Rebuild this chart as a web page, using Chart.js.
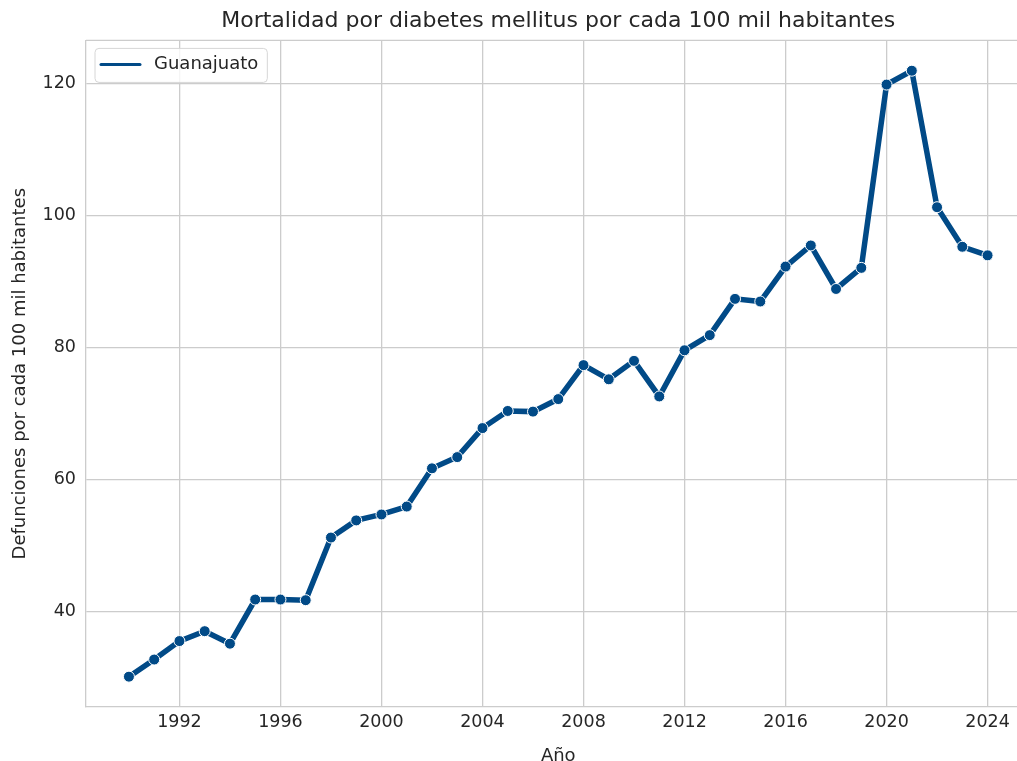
<!DOCTYPE html>
<html>
<head>
<meta charset="utf-8">
<script src="https://cdn.jsdelivr.net/npm/chart.js@4"></script>
<style>
  html, body { margin: 0; padding: 0; background: #ffffff; overflow: hidden; }
  #wrap { position: relative; width: 1037px; height: 761px; }
</style>
</head>
<body>
<div id="wrap"><canvas id="lineChart"></canvas></div>
<script>
// datos
var years = [1990, 1991, 1992, 1993, 1994, 1995, 1996, 1997, 1998, 1999,
  2000, 2001, 2002, 2003, 2004, 2005, 2006, 2007, 2008, 2009,
  2010, 2011, 2012, 2013, 2014, 2015, 2016, 2017, 2018, 2019,
  2020, 2021, 2022, 2023, 2024];
var guanajuato = [30.1, 32.7, 35.5, 37.0, 35.1, 41.8, 41.8, 41.7, 51.2, 53.8,
  54.7, 55.9, 61.7, 63.4, 67.8, 70.4, 70.3, 72.2, 77.35, 75.2,
  78.0, 72.6, 79.6, 81.9, 87.4, 87.0, 92.3, 95.5, 88.9, 92.1,
  119.9, 122.0, 101.3, 95.3, 94.0];
var xTicks = [1992, 1996, 2000, 2004, 2008, 2012, 2016, 2020, 2024];
var yTicks = [40, 60, 80, 100, 120];

var lineColor = "#014a87";
var gridColor = "#cccccc";
var textColor = "#262626";
var fontFamily = '"DejaVu Sans", sans-serif';

//legenda dentro del area
var legendBox = {
  id: "legendBox",
  afterDraw: function (chart) {
    var ctx = chart.ctx;
    var a = chart.chartArea;
    var ds = chart.data.datasets[0];
    ctx.save();
    ctx.font = "18px " + fontFamily;
    var tw = ctx.measureText(ds.label).width;
    var x = a.left + 9, y = a.top + 8, w = 68 + tw, h = 34;
    ctx.beginPath();
    ctx.roundRect(x, y, w, h, 4);
    ctx.fillStyle = "rgba(255,255,255,0.8)";
    ctx.fill();
    ctx.lineWidth = 1;
    ctx.strokeStyle = "#d6d6d6";
    ctx.stroke();
    ctx.beginPath();
    ctx.moveTo(x + 6, y + 16);
    ctx.lineTo(x + 45, y + 16);
    ctx.lineWidth = 3;
    ctx.lineCap = "round";
    ctx.strokeStyle = lineColor;
    ctx.stroke();
    ctx.fillStyle = textColor;
    ctx.textBaseline = "middle";
    ctx.fillText(ds.label, x + 59, y + 16);
    ctx.restore();
  },
};

//borde superior
var topSpine = {
  id: "topSpine",
  beforeDatasetsDraw: function (chart) {
    var ctx = chart.ctx;
    var a = chart.chartArea;
    ctx.save();
    ctx.beginPath();
    ctx.moveTo(a.left, a.top);
    ctx.lineTo(a.right, a.top);
    ctx.lineWidth = 1.3;
    ctx.strokeStyle = gridColor;
    ctx.stroke();
    ctx.restore();
  },
};

var ctxLine = document.getElementById("lineChart");
var chartLine = new Chart(ctxLine, {
  type: "line",
  data: {
    datasets: [
      {
        label: "Guanajuato",
        data: years.map(function (y, i) {
          return { x: y, y: guanajuato[i] };
        }),
        borderColor: lineColor,
        borderWidth: 5.5,
        backgroundColor: lineColor,
        pointRadius: 5.5,
        pointBorderColor: "#ffffff",
        pointBorderWidth: 1,
        pointBackgroundColor: lineColor,
        tension: 0,
      },
    ],
  },
  options: {
    animation: false,
    responsive: true,
    maintainAspectRatio: false,
    layout: { padding: 0 },
    plugins: {
      legend: { display: false },
      tooltip: { enabled: false },
      title: {
        display: true,
        text: "Mortalidad por diabetes mellitus por cada 100 mil habitantes",
        fullSize: false,
        color: textColor,
        font: { family: fontFamily, size: 22, weight: "normal" },
        padding: { top: 8, bottom: 6 },
      },
    },
    scales: {
      x: {
        type: "linear",
        min: 1988.3,
        max: 2025.7,
        afterBuildTicks: function (scale) {
          scale.ticks = xTicks.map(function (v) {
            return { value: v };
          });
        },
        afterFit: function (scale) {
          scale.height = 54;
        },
        ticks: {
          color: textColor,
          font: { family: fontFamily, size: 17.5 },
          padding: 5,
          maxRotation: 0,
          callback: function (v) {
            return String(v);
          },
        },
        grid: { color: gridColor, lineWidth: 1.3, drawTicks: false },
        border: { color: gridColor, width: 1.3 },
        title: {
          display: true,
          text: "Año",
          color: textColor,
          font: { family: fontFamily, size: 18 },
          padding: { top: 0, bottom: -6 },
        },
      },
      y: {
        min: 25.5,
        max: 126.6,
        afterBuildTicks: function (scale) {
          scale.ticks = yTicks.map(function (v) {
            return { value: v };
          });
        },
        afterFit: function (scale) {
          scale.width = 86;
        },
        ticks: {
          color: textColor,
          font: { family: fontFamily, size: 17.5 },
          padding: 10,
        },
        grid: { color: gridColor, lineWidth: 1.3, drawTicks: false },
        border: { color: gridColor, width: 1.3 },
        title: {
          display: true,
          text: "Defunciones por cada 100 mil habitantes",
          color: textColor,
          font: { family: fontFamily, size: 18 },
          padding: { top: 10, bottom: 0 },
        },
      },
    },
  },
  plugins: [topSpine, legendBox],
});
</script>
</body>
</html>
